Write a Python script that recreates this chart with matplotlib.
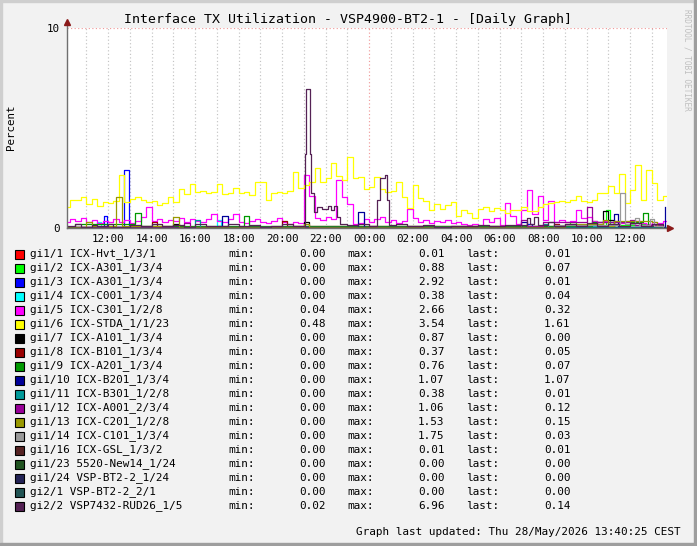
import numpy as np
import matplotlib
matplotlib.use("Agg")
import matplotlib.pyplot as plt
from matplotlib.patches import Rectangle

# ---- data (hours relative to 12:00 on day one) ----
tick_labels = ["12:00", "14:00", "16:00", "18:00", "20:00", "22:00", "00:00",
               "02:00", "04:00", "06:00", "08:00", "10:00", "12:00"]
tick_hours = [0, 2, 4, 6, 8, 10, 12, 14, 16, 18, 20, 22, 24]

# 15 minute samples from 10:00 to 13:45 next day
t15 = np.arange(-2, 25.76, 0.25)

yellow_sta = [1.07, 1.4, 1.4, 1.55, 1.2, 1.45, 1.1, 1.3,
              1.25, 1.35, 2.65, 1.3, 1.45, 1.55, 1.4, 1.3,
              1.35, 1.15, 1.25, 1.55, 1.3, 1.95, 1.7, 2.2,
              1.8, 1.85, 1.75, 1.8, 2.2, 1.7, 1.75, 2.0,
              1.75, 1.8, 1.65, 2.3, 2.3, 1.4, 1.75, 1.8,
              1.75, 1.85, 2.8, 2.0, 2.15, 2.3, 3.0, 2.3,
              2.5, 3.25, 2.6, 2.4, 3.54, 2.5, 2.55, 1.95,
              2.05, 2.55, 1.95, 1.8, 1.85, 2.3, 1.55, 1.0,
              2.15, 1.5, 1.35, 0.9, 1.2, 0.95, 1.15, 1.3,
              0.6, 0.9, 0.75, 0.5, 0.95, 1.05, 0.85, 1.0,
              0.9, 0.75, 0.9, 0.9, 1.05, 0.85, 0.85, 1.05,
              1.2, 1.25, 1.3, 1.35, 1.3, 1.4, 1.6, 1.35,
              1.3, 1.4, 1.75, 1.75, 2.1, 1.75, 2.7, 1.25,
              1.9, 3.15, 1.4, 2.9, 2.25, 1.4, 1.6, 1.61]

magenta_c301 = [0.3, 0.45, 0.35, 0.5, 0.3, 0.4, 0.25, 0.35,
                0.3, 0.45, 0.3, 0.4, 0.25, 0.35, 0.55, 1.05,
                0.35, 0.45, 0.3, 0.4, 0.35, 0.5, 0.3, 0.45,
                0.35, 0.3, 0.45, 0.7, 0.35, 0.3, 0.45, 0.7,
                0.3, 0.25, 0.35, 0.45, 0.3, 0.25, 0.35, 0.5,
                0.3, 0.2, 0.3, 0.25, 2.66, 1.6, 0.5, 0.4,
                0.55, 0.45, 2.4, 1.55, 1.2, 0.2, 0.25, 0.45,
                0.3, 0.45, 0.55, 0.3, 0.4, 0.25, 0.35, 0.95,
                0.5, 0.3, 0.4, 0.25, 0.35, 0.3, 0.4, 0.25,
                0.3, 0.2, 0.15, 0.2, 0.1, 0.45, 0.3, 0.5,
                0.15, 1.25, 0.6, 0.2, 0.9, 1.9, 0.7, 1.6,
                0.4, 1.35, 0.3, 0.4, 0.3, 0.35, 0.9, 0.5,
                0.55, 0.35, 0.3, 0.35, 0.3, 0.35, 0.25, 0.35,
                0.3, 0.35, 0.25, 0.2, 0.3, 0.25, 0.35, 0.32]

# sparse readings (hour, value) for the quieter ports
hvt_t = [-2, 6.0, 18.0, 25.75]
hvt_v = [0.0, 0.01, 0.0, 0.01]
a301a_t = [-2, 9.0, 12.0, 18.0, 21.25, 21.5, 22.25, 22.5, 22.9, 23.1, 24.5, 24.75, 25.5]
a301a_v = [0.02, 0.05, 0.03, 0.05, 0.3, 0.1, 0.35, 0.1, 0.88, 0.15, 0.2, 0.05, 0.07]
a301b_t = [-2, -0.2, -0.05, 0.75, 0.95, 5.0, 5.25, 19.25, 19.5, 25.75]
a301b_v = [0.05, 0.6, 0.05, 2.92, 0.05, 0.1, 0.02, 0.2, 0.01, 0.01]
c001_t = [-2, -0.5, -0.3, 5.0, 5.2, 22.0, 23.0, 25.75]
c001_v = [0.02, 0.3, 0.05, 0.38, 0.05, 0.1, 0.04, 0.04]
a101_t = [-2, 3.0, 3.25, 9.0, 9.25, 22.75, 23.0, 23.25, 25.5]
a101_v = [0.05, 0.2, 0.03, 0.3, 0.05, 0.87, 0.4, 0.05, 0.0]
b101_t = [-2, 2.0, 2.25, 8.0, 8.25, 20.5, 20.75, 25.0]
b101_v = [0.05, 0.3, 0.05, 0.37, 0.08, 0.2, 0.05, 0.05]
a201_t = [-2, -1.5, 1.25, 1.5, 2.25, 6.25, 6.5, 22.0, 22.25, 24.6, 24.85, 25.5]
a201_v = [0.05, 0.2, 0.75, 0.1, 0.1, 0.6, 0.1, 0.1, 0.3, 0.76, 0.1, 0.07]
b201_t = [-2, 5.25, 5.5, 11.5, 11.75, 19.0, 19.25, 23.25, 23.45, 25.6]
b201_v = [0.02, 0.6, 0.05, 0.82, 0.05, 0.3, 0.05, 0.7, 0.05, 1.07]
b301_t = [-2, 4.0, 4.25, 20.0, 20.25, 25.5]
b301_v = [0.02, 0.38, 0.05, 0.2, 0.03, 0.01]
a001_t = [-2, 3.5, 3.75, 19.0, 19.25, 20.0, 22.0, 22.25, 22.5, 24.0, 24.25, 25.5]
a001_v = [0.05, 0.25, 0.05, 0.4, 0.1, 0.3, 1.06, 0.2, 0.3, 0.4, 0.15, 0.12]
c201_t = [-2, -1.0, -0.75, 0.35, 0.65, 3.0, 3.25, 9.0, 9.25, 21.0, 22.75, 23.0, 23.25, 25.0, 25.25, 25.5]
c201_v = [0.05, 0.3, 0.1, 1.53, 0.1, 0.55, 0.05, 0.2, 0.05, 0.2, 0.4, 0.1, 0.35, 0.3, 0.1, 0.15]
c101_t = [-2, 20.5, 23.55, 23.75, 24.25, 24.4, 24.9, 25.1, 25.5]
c101_v = [0.02, 0.15, 1.75, 0.2, 0.5, 0.15, 0.45, 0.1, 0.03]
gsl_t = [-2, 25.75]
gsl_v = [0.01, 0.01]
new14_t = [-2, 25.75]
new14_v = [0.0, 0.0]
bt2_24_t = [-2, 25.75]
bt2_24_v = [0.0, 0.0]
bt2_21_t = [-2, 25.75]
bt2_21_v = [0.0, 0.0]
rud26_t = [-2.0, -1.5, -1.25, -0.75, -0.5, 0.0, 0.25, 1.0, 1.5, 2.0, 2.5, 3.0, 3.5,
           4.0, 4.5, 5.5, 6.0, 6.5, 7.0, 7.5, 8.0, 8.5, 9.05, 9.1, 9.3, 9.35,
           9.45, 9.6, 9.85, 10.1, 10.25, 10.4, 10.55, 10.65, 11.0, 11.5, 12.0,
           12.37, 12.5, 12.75, 12.85, 12.9, 13.25, 13.75, 14.5, 15.0, 15.75,
           16.5, 17.0, 17.5, 18.25, 19.25, 19.4, 19.6, 19.75, 20.25, 20.5, 21.0,
           21.5, 22.0, 22.5, 23.0, 23.5, 24.0, 24.5, 25.0, 25.5]
rud26_v = [0.1, 0.2, 0.05, 0.15, 0.08, 0.2, 0.05, 0.15, 0.08, 0.2, 0.1, 0.15, 0.05,
           0.18, 0.1, 0.2, 0.1, 0.15, 0.05, 0.1, 0.18, 0.1, 3.7, 6.96, 3.7, 1.75,
           0.8, 1.05, 0.95, 1.1, 0.9, 1.1, 0.55, 0.2, 0.15, 0.2, 0.1,
           1.4, 2.48, 2.65, 1.4, 0.15, 0.2, 0.1, 0.15, 0.05, 0.12,
           0.08, 0.15, 0.1, 0.15, 0.48, 0.2, 0.53, 0.15, 0.3, 0.1, 0.2,
           0.1, 0.25, 0.1, 0.2, 0.1, 0.25, 0.1, 0.2, 0.14]

names = ["gi1/1 ICX-Hvt_1/3/1", "gi1/2 ICX-A301_1/3/4", "gi1/3 ICX-A301_1/3/4",
         "gi1/4 ICX-C001_1/3/4", "gi1/5 ICX-C301_1/2/8", "gi1/6 ICX-STDA_1/1/23",
         "gi1/7 ICX-A101_1/3/4", "gi1/8 ICX-B101_1/3/4", "gi1/9 ICX-A201_1/3/4",
         "gi1/10 ICX-B201_1/3/4", "gi1/11 ICX-B301_1/2/8", "gi1/12 ICX-A001_2/3/4",
         "gi1/13 ICX-C201_1/2/8", "gi1/14 ICX-C101_1/3/4", "gi1/16 ICX-GSL_1/3/2",
         "gi1/23 5520-New14_1/24", "gi1/24 VSP-BT2-2_1/24", "gi2/1 VSP-BT2-2_2/1",
         "gi2/2 VSP7432-RUD26_1/5"]
colors = ["#FF0000", "#00FF00", "#0000FF", "#00FFFF", "#FF00FF", "#FFFF00",
          "#000000", "#990000", "#009900", "#000099", "#009999", "#990099",
          "#999900", "#999999", "#552222", "#225522", "#222255", "#225555",
          "#552255"]
mins = [0.00, 0.00, 0.00, 0.00, 0.04, 0.48, 0.00, 0.00, 0.00, 0.00,
        0.00, 0.00, 0.00, 0.00, 0.00, 0.00, 0.00, 0.00, 0.02]
maxs = [0.01, 0.88, 2.92, 0.38, 2.66, 3.54, 0.87, 0.37, 0.76, 1.07,
        0.38, 1.06, 1.53, 1.75, 0.01, 0.00, 0.00, 0.00, 6.96]
lasts = [0.01, 0.07, 0.01, 0.04, 0.32, 1.61, 0.00, 0.05, 0.07, 1.07,
         0.01, 0.12, 0.15, 0.03, 0.01, 0.00, 0.00, 0.00, 0.14]

series = [(hvt_t, hvt_v), (a301a_t, a301a_v), (a301b_t, a301b_v), (c001_t, c001_v),
          (t15, magenta_c301), (t15, yellow_sta), (a101_t, a101_v), (b101_t, b101_v),
          (a201_t, a201_v), (b201_t, b201_v), (b301_t, b301_v), (a001_t, a001_v),
          (c201_t, c201_v), (c101_t, c101_v), (gsl_t, gsl_v), (new14_t, new14_v),
          (bt2_24_t, bt2_24_v), (bt2_21_t, bt2_21_v), (rud26_t, rud26_v)]

# ---- layout in pixels ----
WP, HP = 697, 546
def fx(p): return p / WP
def fy(p): return 1 - p / HP

mono = "DejaVu Sans Mono"
fig = plt.figure(figsize=(WP / 100, HP / 100), dpi=100, facecolor="#F2F2F2")

# frame
fig.patches.append(Rectangle((0, 0), fx(2), 1, transform=fig.transFigure, color="#CFCFCF"))
fig.patches.append(Rectangle((0, fy(2)), 1, 2 / HP, transform=fig.transFigure, color="#CFCFCF"))
fig.patches.append(Rectangle((fx(WP - 3), 0), 3 / WP, 1, transform=fig.transFigure, color="#9E9E9E"))
fig.patches.append(Rectangle((0, 0), 1, 3 / HP, transform=fig.transFigure, color="#9E9E9E"))

x0, x1 = (67 - 108) / 21.75, (667 - 108) / 21.75
ax = fig.add_axes([fx(67), fy(228), fx(667) - fx(67), fy(28) - fy(228)])
ax.set_facecolor("white")
ax.set_xlim(x0, x1)
ax.set_ylim(0, 10)
for s in ax.spines.values():
    s.set_visible(False)

for h in range(-1, 26):
    c = "#F09C9C" if h == 12 else "#C4C4C4"
    ax.axvline(h, color=c, lw=0.85, ls=(0, (1, 2)), zorder=1)
ax.axhline(10, color="#F09C9C", lw=0.85, ls=(0, (1, 2)), zorder=1)

for (t, v), c in zip(series, colors):
    ax.step(t, v, where="post", color=c, lw=0.9, zorder=2)

# axes with arrows
ax.plot([x0, x0], [0, 10.3], color="#707070", lw=1.0, clip_on=False, zorder=5)
ax.plot([x0, 25.85], [0, 0], color="#707070", lw=1.0, clip_on=False, zorder=5)
ax.plot([x0], [10.3], marker="^", ms=5, color="#8B1A1A", clip_on=False, zorder=6)
ax.plot([25.85], [0], marker=">", ms=5, color="#8B1A1A", clip_on=False, zorder=6)

ax.set_xticks(tick_hours)
ax.set_xticklabels(tick_labels, fontfamily=mono, fontsize=7.8)
ax.set_yticks([0, 10])
ax.set_yticklabels(["0", "10"], fontfamily=mono, fontsize=7.8)
ax.tick_params(axis="x", length=0, pad=4.5)
ax.tick_params(axis="y", length=0, pad=5)

fig.text(fx(348), fy(19), "Interface TX Utilization - VSP4900-BT2-1 - [Daily Graph]",
         ha="center", va="center", fontfamily=mono, fontsize=9.55)
fig.text(fx(11), fy(127), "Percent", rotation=90, ha="center", va="center",
         fontfamily=mono, fontsize=7.8)
fig.text(fx(687.5), fy(60), "RRDTOOL / TOBI OETIKER", rotation=270, ha="center",
         va="center", fontfamily=mono, fontsize=5.6, color="#BFBFBF")

for i, name in enumerate(names):
    yc = 254 + 14 * i
    fig.patches.append(Rectangle((fx(15), fy(yc + 4.5)), 8.5 / WP, 8.5 / HP,
                                 transform=fig.transFigure, facecolor=colors[i],
                                 edgecolor="black", lw=0.8))
    kw = dict(va="center", fontfamily=mono, fontsize=7.9)
    fig.text(fx(30), fy(yc), name, ha="left", **kw)
    fig.text(fx(228), fy(yc), "min:", ha="left", **kw)
    fig.text(fx(325.5), fy(yc), f"{mins[i]:.2f}", ha="right", **kw)
    fig.text(fx(347), fy(yc), "max:", ha="left", **kw)
    fig.text(fx(444.5), fy(yc), f"{maxs[i]:.2f}", ha="right", **kw)
    fig.text(fx(466.5), fy(yc), "last:", ha="left", **kw)
    fig.text(fx(570.5), fy(yc), f"{lasts[i]:.2f}", ha="right", **kw)

fig.text(fx(681), fy(532), "Graph last updated: Thu 28/May/2026 13:40:25 CEST",
         ha="right", va="center", fontfamily=mono, fontsize=7.9)

fig.savefig("out.png", dpi=100, facecolor=fig.get_facecolor())
